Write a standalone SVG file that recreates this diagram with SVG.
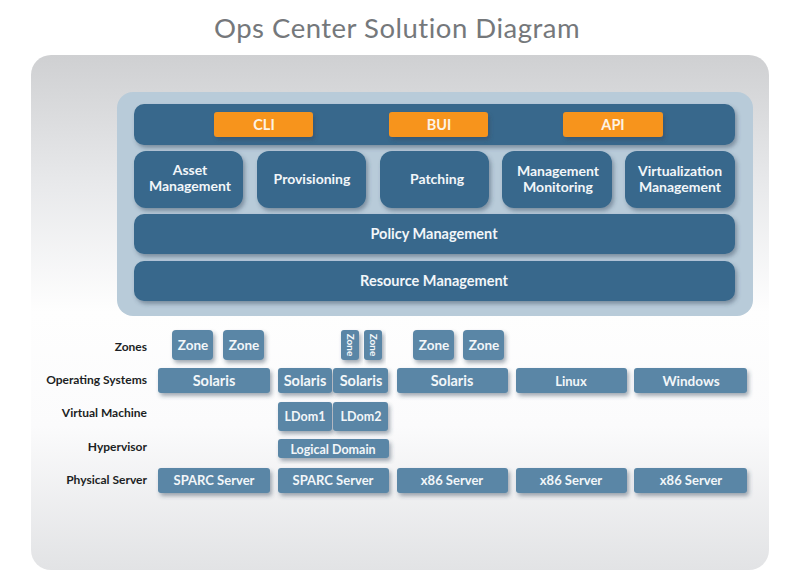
<svg xmlns="http://www.w3.org/2000/svg" width="800" height="576" viewBox="0 0 800 576">
<defs>
<linearGradient id="bg" x1="0" y1="0" x2="0" y2="1"><stop offset="0" stop-color="#cfd0d2"/><stop offset="0.25" stop-color="#e8e9eb"/><stop offset="0.5" stop-color="#fefefe"/><stop offset="0.72" stop-color="#fbfbfc"/><stop offset="1" stop-color="#e2e3e5"/></linearGradient>
<filter id="sh" x="-20%" y="-20%" width="140%" height="150%"><feDropShadow dx="2" dy="3" stdDeviation="2" flood-color="#33475a" flood-opacity="0.45"/></filter>
</defs>
<style>
text{font-family:Lato,"Liberation Sans",sans-serif;text-anchor:middle}
.dark rect{fill:#37688c;filter:url(#sh)}
.dark text{fill:#f2f6f9;font-size:14.500px;font-weight:700}
.or rect{fill:#f7941d;filter:url(#sh)}
.or text{fill:#fdf3e4;font-size:14.500px;font-weight:700}
.blk rect{fill:#5a86a6;filter:url(#sh)}
.blk text{fill:#f2f6f9;font-size:14.500px;font-weight:700}
.dark.mod text{font-size:14px}
.blk.s13 text{font-size:13px}
.blk.s135 text{font-size:13.500px}
.blk.sm text{font-size:12.500px}
.blk.vt text{font-size:10px}
.lab{fill:#1c1f24;font-size:12px;font-weight:700;text-anchor:end}
</style>
<text id="title" x="397" y="38" font-size="27.500" fill="#75787b" style="letter-spacing:.5px">Ops Center Solution Diagram</text>
<rect x="31" y="55" width="738" height="515" rx="20" fill="url(#bg)"/>
<rect x="117" y="92" width="636" height="224" rx="16" fill="#b8cbd9"/>
<g id="connectors"/>
<g id="top-bar" class="dark"><rect x="134" y="104" width="601" height="41" rx="10"/></g>
<g id="cli" class="or"><rect x="214" y="112" width="99" height="25" rx="3"/><text x="264" y="130">CLI</text></g>
<g id="bui" class="or"><rect x="389" y="112" width="99" height="25" rx="3"/><text x="439" y="130">BUI</text></g>
<g id="api" class="or"><rect x="563" y="112" width="100" height="25" rx="3"/><text x="613" y="130">API</text></g>
<g id="asset" class="dark mod"><rect x="134" y="151" width="109" height="57" rx="12"/><text x="190" y="175">Asset</text><text x="190" y="191">Management</text></g>
<g id="provisioning" class="dark mod"><rect x="257" y="151" width="109" height="57" rx="12"/><text x="312" y="184">Provisioning</text></g>
<g id="patching" class="dark mod"><rect x="380" y="151" width="109" height="57" rx="12"/><text x="437" y="184">Patching</text></g>
<g id="monitoring" class="dark mod"><rect x="502" y="151" width="110" height="57" rx="12"/><text x="558" y="176">Management</text><text x="558" y="192">Monitoring</text></g>
<g id="virtualization" class="dark mod"><rect x="625" y="151" width="110" height="57" rx="12"/><text x="680" y="176">Virtualization</text><text x="680" y="192">Management</text></g>
<g id="policy" class="dark"><rect x="134" y="214" width="601" height="40" rx="10"/><text x="434" y="239">Policy Management</text></g>
<g id="resource" class="dark"><rect x="134" y="261" width="601" height="40" rx="10"/><text x="434" y="286">Resource Management</text></g>
<text id="l-zones" class="lab" x="147" y="351">Zones</text>
<text id="l-os" class="lab" x="147" y="384">Operating Systems</text>
<text id="l-vm" class="lab" x="147" y="417">Virtual Machine</text>
<text id="l-hyp" class="lab" x="147" y="451">Hypervisor</text>
<text id="l-phys" class="lab" x="147" y="484">Physical Server</text>
<g id="zone1" class="blk s135"><rect x="172" y="330" width="41" height="30" rx="4"/><text x="193" y="350">Zone</text></g>
<g id="zone2" class="blk s135"><rect x="223" y="330" width="41" height="30" rx="4"/><text x="244" y="350">Zone</text></g>
<g id="zone3" class="blk vt"><rect x="341" y="330" width="18" height="30" rx="3"/><text transform="translate(346.500 345) rotate(90)">Zone</text></g>
<g id="zone4" class="blk vt"><rect x="364" y="330" width="18" height="30" rx="3"/><text transform="translate(369.500 345) rotate(90)">Zone</text></g>
<g id="zone5" class="blk s135"><rect x="413" y="330" width="41" height="30" rx="4"/><text x="434" y="350">Zone</text></g>
<g id="zone6" class="blk s135"><rect x="463" y="330" width="41" height="30" rx="4"/><text x="484" y="350">Zone</text></g>
<g id="os1" class="blk"><rect x="158" y="368" width="112" height="25" rx="3"/><text x="214" y="386">Solaris</text></g>
<g id="os2" class="blk"><rect x="278" y="368" width="54" height="25" rx="3"/><text x="305" y="386">Solaris</text></g>
<g id="os3" class="blk"><rect x="333" y="368" width="55" height="25" rx="3"/><text x="361" y="386">Solaris</text></g>
<g id="os4" class="blk"><rect x="397" y="368" width="111" height="25" rx="3"/><text x="452" y="386">Solaris</text></g>
<g id="os5" class="blk s13"><rect x="516" y="368" width="111" height="25" rx="3"/><text x="571" y="386">Linux</text></g>
<g id="os6" class="blk s135"><rect x="634" y="368" width="113" height="25" rx="3"/><text x="691" y="386">Windows</text></g>
<g id="ldom1" class="blk sm"><rect x="278" y="402" width="54" height="29" rx="3"/><text x="305" y="421">LDom1</text></g>
<g id="ldom2" class="blk sm"><rect x="333" y="402" width="55" height="29" rx="3"/><text x="361" y="421">LDom2</text></g>
<g id="logical" class="blk sm"><rect x="278" y="439" width="111" height="19" rx="3"/><text x="333" y="454">Logical Domain</text></g>
<g id="srv1" class="blk s13"><rect x="158" y="468" width="112" height="25" rx="3"/><text x="214" y="485">SPARC Server</text></g>
<g id="srv2" class="blk s13"><rect x="278" y="468" width="111" height="25" rx="3"/><text x="333" y="485">SPARC Server</text></g>
<g id="srv3" class="blk s13"><rect x="397" y="468" width="111" height="25" rx="3"/><text x="452" y="485">x86 Server</text></g>
<g id="srv4" class="blk s13"><rect x="516" y="468" width="111" height="25" rx="3"/><text x="571" y="485">x86 Server</text></g>
<g id="srv5" class="blk s13"><rect x="634" y="468" width="113" height="25" rx="3"/><text x="691" y="485">x86 Server</text></g>
</svg>
